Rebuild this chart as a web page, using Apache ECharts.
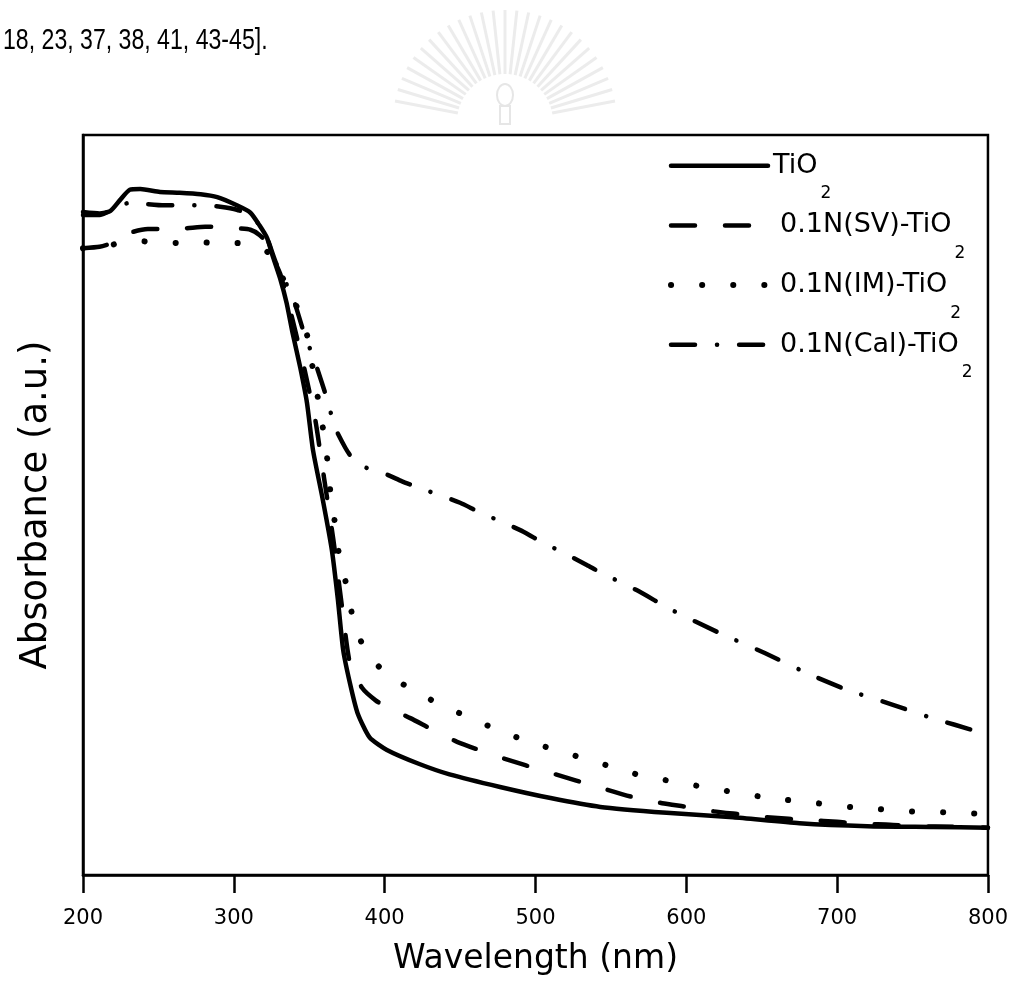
<!DOCTYPE html>
<html>
<head>
<meta charset="utf-8">
<script src="https://cdn.jsdelivr.net/npm/echarts@6/dist/echarts.min.js"></script>
<style>
html,body{margin:0;padding:0;background:#fff;}
#chart{width:1011px;height:985px;}
</style>
</head>
<body>
<div id="chart"></div>
<script>
// ---- data (wavelength in nm, absorbance in a.u.) ----
const xTicks = [200, 300, 400, 500, 600, 700, 800];
const seriesNames = ['TiO2', '0.1N(SV)-TiO2', '0.1N(IM)-TiO2', '0.1N(Cal)-TiO2'];

const tio2Nm  = [200,211,218,224.5,231,238,251,264,278,289,302,311,317,322,326,331,335,339,344,348.5,352.5,359,365,369,372.5,377,382,390,401.5,423,443,476.5,510,543,587,631,675,720,764,800];
const tio2Abs = [.896,.894,.897,.912,.926,.927,.923,.922,.920,.916,.905,.895,.878,.861,.835,.804,.773,.732,.686,.638,.574,.507,.439,.372,.304,.259,.219,.186,.169,.150,.136,.119,.104,.092,.084,.078,.070,.066,.065,.064];

const svNm  = [200,211,218,226,233,243,254,268,281,291,302,311,317,322,327,331,339,347,354,360,366,372,377,385,394,401.5,417,432,448,476.5,510,543,565,584,600.5,618,636,653.5,682,700,717,735,750,780,800];
const svAbs = [.847,.849,.853,.862,.869,.873,.873,.874,.876,.876,.874,.872,.865,.854,.830,.811,.750,.682,.615,.534,.453,.358,.286,.253,.236,.227,.212,.196,.180,.159,.138,.118,.105,.097,.092,.086,.082,.078,.074,.072,.069,.068,.066,.065,.064];

const imNm  = [200,207,218,226,233,243,253,264,278,289,302,313,317,323,326,337,348.5,352,359,362,364,367,370,375,379,387,402,422,435,455,475,496,551,571,592.5,614,634,655.5,687,708.5,728,747,766,783,800];
const imAbs = [.847,.848,.851,.855,.857,.856,.855,.854,.855,.854,.854,.851,.847,.841,.827,.791,.730,.689,.605,.561,.518,.476,.430,.389,.347,.304,.270,.247,.232,.214,.196,.180,.146,.134,.126,.118,.111,.104,.097,.092,.089,.086,.085,.084,.082];

const calNm  = [200,211,224.5,233,241,254,268,281,291,302,311,317,322,328,339,346,354.5,362,367,374,378,387,401.5,411.5,422,450,462,474.5,492,504,515,534,543,567,590.5,621,652,683,707,737,763,778,796,800];
const calAbs = [.892,.892,.905,.909,.907,.905,.905,.905,.903,.899,.892,.878,.861,.827,.781,.736,.689,.642,.605,.577,.565,.551,.541,.532,.524,.503,.491,.480,.464,.450,.439,.419,.409,.385,.358,.328,.300,.270,.250,.230,.212,.203,.192,.190];

const headerText = '18, 23, 37, 38, 41, 43-45].';

// ---- build ----
function pairs(xs, ys) { return xs.map((x, i) => [x, ys[i]]); }
const FONT = 'DejaVu Sans';
const dashStyles = ['solid', [24, 30], [0.1, 31], [24, 22, 0.1, 22]];
const lineWidths = [4.5, 4.5, 6, 4.5];
const seriesData = [pairs(tio2Nm, tio2Abs), pairs(svNm, svAbs), pairs(imNm, imAbs), pairs(calNm, calAbs)];

// faint emblem watermark behind the page header
const wm = [];
const wmCx = 505, wmCy = 122;
for (let k = 0; k <= 26; k++) {
  const a = Math.PI * (1.06 + 0.88 * k / 26);
  wm.push({type: 'line', silent: true, z: -10,
    shape: {x1: wmCx + 48 * Math.cos(a), y1: wmCy + 48 * Math.sin(a), x2: wmCx + 112 * Math.cos(a), y2: wmCy + 112 * Math.sin(a)},
    style: {stroke: '#ececec', lineWidth: 3}});
}
wm.push({type: 'ellipse', silent: true, z: -10, shape: {cx: wmCx, cy: 95, rx: 8, ry: 11}, style: {fill: 'none', stroke: '#e6e6e6', lineWidth: 2}});
wm.push({type: 'rect', silent: true, z: -10, shape: {x: wmCx - 5, y: 106, width: 10, height: 18}, style: {fill: 'none', stroke: '#e6e6e6', lineWidth: 2}});

const chart = echarts.init(document.getElementById('chart'), null, {renderer: 'canvas'});
chart.setOption({
  animation: false,
  backgroundColor: '#ffffff',
  grid: {left: 83, right: 23, top: 135, bottom: 110, show: true, borderColor: '#000', borderWidth: 2.5},
  xAxis: {
    type: 'value', min: 200, max: 800, interval: 100,
    axisLine: {show: true, lineStyle: {color: '#000', width: 2.5}},
    axisTick: {show: true, inside: false, length: 18, lineStyle: {color: '#000', width: 2.5}},
    axisLabel: {color: '#000', fontSize: 21, fontFamily: FONT, margin: 33,
      formatter: v => xTicks.includes(v) ? String(v) : ''},
    splitLine: {show: false},
    name: 'Wavelength (nm)', nameLocation: 'middle', nameGap: 68,
    nameTextStyle: {color: '#000', fontSize: 33, fontFamily: FONT}
  },
  yAxis: {
    type: 'value', min: 0, max: 1,
    axisLine: {show: true, lineStyle: {color: '#000', width: 2.5}},
    axisTick: {show: false}, axisLabel: {show: false}, splitLine: {show: false},
    name: 'Absorbance (a.u.)', nameLocation: 'middle', nameGap: 28,
    nameTextStyle: {color: '#000', fontSize: 37, fontFamily: FONT}
  },
  legend: {
    orient: 'vertical', left: 668, top: 136.5, padding: 0,
    itemWidth: 97, itemHeight: 73, itemGap: -6,
    data: seriesNames.map((n, i) => ({
      name: n,
      lineStyle: {width: lineWidths[i], color: '#000', type: dashStyles[i], cap: 'round'}
    })),
    itemStyle: {color: 'rgba(0,0,0,0)', borderColor: 'rgba(0,0,0,0)', borderWidth: 0, opacity: 0},
    formatter: name => {
      const base = name.slice(0, -1);
      return (name.startsWith('0.1') ? '{b|' : '{a|') + base + '}{s|2}';
    },
    textStyle: {
      color: '#000', fontFamily: FONT, fontSize: 27,
      rich: {
        a: {fontFamily: FONT, fontSize: 27, color: '#000', verticalAlign: 'middle'},
        b: {fontFamily: FONT, fontSize: 27, color: '#000', verticalAlign: 'middle', padding: [0, 0, 0, 7]},
        s: {fontFamily: FONT, fontSize: 17, color: '#000', verticalAlign: 'bottom', padding: [56, 0, 0, 3]}
      }
    }
  },
  graphic: wm.concat([{
    type: 'text', x: 3, y: 41, scaleX: 0.77,
    style: {text: headerText, font: '30px "Liberation Sans"', fill: '#000', align: 'left', verticalAlign: 'middle'}
  }]),
  series: seriesNames.map((n, i) => ({
    name: n, type: 'line', data: seriesData[i], symbol: 'none', showSymbol: false,
    smooth: 0.2, clip: true,
    lineStyle: {color: '#000', width: lineWidths[i], type: dashStyles[i], cap: 'round', join: 'round'},
    itemStyle: {color: '#000'}
  }))
});
</script>
</body>
</html>
